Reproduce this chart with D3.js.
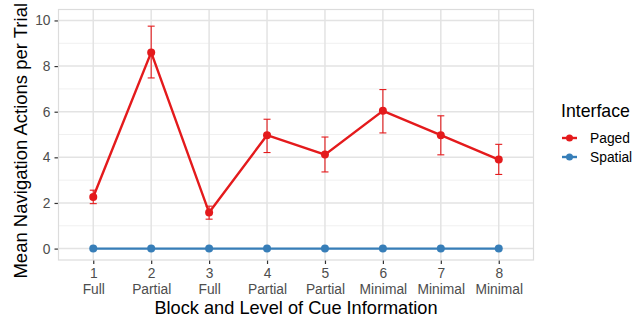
<!DOCTYPE html>
<html>
<head>
<meta charset="utf-8">
<script src="https://cdn.jsdelivr.net/npm/d3@7"></script>
<style>
  body { margin: 0; background: #fff; }
  svg { display: block; font-family: "Liberation Sans", Arial, sans-serif; }
</style>
</head>
<body>
<svg id="chart" width="644" height="320"></svg>
<script>
// Blocks and cue levels
const blocks = ["1", "2", "3", "4", "5", "6", "7", "8"];
const cueLevels = ["Full", "Partial", "Full", "Partial", "Partial", "Minimal", "Minimal", "Minimal"];

// Paged interface: mean, lower and upper error bounds
const pagedMean  = [2.26, 8.60, 1.58, 4.97, 4.12, 6.04, 4.97, 3.90];
const pagedLower = [1.97, 7.48, 1.29, 4.21, 3.36, 5.07, 4.11, 3.25];
const pagedUpper = [2.56, 9.75, 1.86, 5.67, 4.89, 6.97, 5.82, 4.57];

// Spatial interface: means (no spread)
const spatialMean = [0, 0, 0, 0, 0, 0, 0, 0];

const yTicks = [0, 2, 4, 6, 8, 10];
const yMinor = [1, 3, 5, 7, 9];

const seriesNames = ["Paged", "Spatial"];
const seriesColors = ["#E41A1C", "#377EB8"];

const svg = d3.select("#chart");
const panel = { left: 58.5, right: 533.5, top: 9.5, bottom: 260 };

const x = d3.scalePoint()
  .domain(blocks)
  .range([panel.left, panel.right])
  .padding(0.6);

const y = d3.scaleLinear()
  .domain([-0.5, 10.48])
  .range([panel.bottom, panel.top]);

// grid
const grid = svg.append("g");
grid.selectAll(".minor").data(yMinor).join("line")
  .attr("x1", panel.left).attr("x2", panel.right)
  .attr("y1", d => y(d)).attr("y2", d => y(d))
  .attr("stroke", "#f0f0f0").attr("stroke-width", 1);
grid.selectAll(".majorY").data(yTicks).join("line")
  .attr("x1", panel.left).attr("x2", panel.right)
  .attr("y1", d => y(d)).attr("y2", d => y(d))
  .attr("stroke", "#e3e3e3").attr("stroke-width", 1.5);
grid.selectAll(".majorX").data(blocks).join("line")
  .attr("x1", d => x(d)).attr("x2", d => x(d))
  .attr("y1", panel.top).attr("y2", panel.bottom)
  .attr("stroke", "#e3e3e3").attr("stroke-width", 1.5);

// axes
const yAxis = svg.append("g")
  .attr("transform", `translate(${panel.left},0)`)
  .call(d3.axisLeft(y).tickValues(yTicks).tickSize(4).tickPadding(4));
yAxis.select(".domain").remove();
yAxis.selectAll(".tick line").attr("stroke", "#333").attr("stroke-width", 1.2);
yAxis.selectAll(".tick text").attr("fill", "#4d4d4d").style("font-size", "13.8px");

const xAxis = svg.append("g")
  .attr("transform", `translate(0,${panel.bottom})`)
  .call(d3.axisBottom(x).tickSize(4).tickPadding(3));
xAxis.select(".domain").remove();
xAxis.selectAll(".tick line").attr("stroke", "#333").attr("stroke-width", 1.2);
xAxis.selectAll(".tick text").remove();
xAxis.selectAll(".tick").append("text")
  .attr("fill", "#4d4d4d")
  .attr("text-anchor", "middle")
  .style("font-size", "13.8px")
  .each(function(d, i) {
    const t = d3.select(this);
    t.append("tspan").attr("x", 0).attr("y", 18).text(d);
    t.append("tspan").attr("x", 0).attr("y", 34).text(cueLevels[i]);
  });

// panel border
svg.append("rect")
  .attr("x", panel.left).attr("y", panel.top)
  .attr("width", panel.right - panel.left).attr("height", panel.bottom - panel.top)
  .attr("fill", "none").attr("stroke", "#dcdcdc").attr("stroke-width", 1.2);

// error bars (Paged)
const eb = svg.append("g").attr("stroke", seriesColors[0]).attr("stroke-width", 1.1);
blocks.forEach((b, i) => {
  const cx = x(b);
  eb.append("line").attr("x1", cx).attr("x2", cx).attr("y1", y(pagedLower[i])).attr("y2", y(pagedUpper[i]));
  eb.append("line").attr("x1", cx - 3.5).attr("x2", cx + 3.5).attr("y1", y(pagedLower[i])).attr("y2", y(pagedLower[i]));
  eb.append("line").attr("x1", cx - 3.5).attr("x2", cx + 3.5).attr("y1", y(pagedUpper[i])).attr("y2", y(pagedUpper[i]));
});

// lines and points
const line = d3.line().x((d, i) => x(blocks[i])).y(d => y(d));
[pagedMean, spatialMean].forEach((vals, s) => {
  svg.append("path").datum(vals)
    .attr("d", line)
    .attr("fill", "none")
    .attr("stroke", seriesColors[s])
    .attr("stroke-width", 2.4);
  svg.append("g").selectAll("circle").data(vals).join("circle")
    .attr("cx", (d, i) => x(blocks[i]))
    .attr("cy", d => y(d))
    .attr("r", 4)
    .attr("fill", seriesColors[s]);
});

// axis titles
svg.append("text")
  .attr("x", (panel.left + panel.right) / 2)
  .attr("y", 314)
  .attr("text-anchor", "middle")
  .attr("fill", "#000")
  .style("font-size", "18.2px")
  .text("Block and Level of Cue Information");

svg.append("text")
  .attr("transform", `translate(27,${(panel.top + panel.bottom) / 2 + 6}) rotate(-90)`)
  .attr("text-anchor", "middle")
  .attr("fill", "#000")
  .style("font-size", "18.5px")
  .text("Mean Navigation Actions per Trial");

// legend
const legend = svg.append("g").attr("transform", "translate(561,0)");
legend.append("text")
  .attr("x", 0).attr("y", 117)
  .attr("fill", "#000")
  .style("font-size", "17.7px")
  .text("Interface");
seriesNames.forEach((name, i) => {
  const ly = 138 + i * 19;
  const g = legend.append("g");
  g.append("line").attr("x1", 1).attr("x2", 16).attr("y1", ly).attr("y2", ly)
    .attr("stroke", seriesColors[i]).attr("stroke-width", 2.4);
  g.append("circle").attr("cx", 8.5).attr("cy", ly).attr("r", 3.5).attr("fill", seriesColors[i]);
  g.append("text").attr("x", 29).attr("y", ly + 5)
    .attr("fill", "#000")
    .style("font-size", "13.8px")
    .text(name);
});
</script>
</body>
</html>
